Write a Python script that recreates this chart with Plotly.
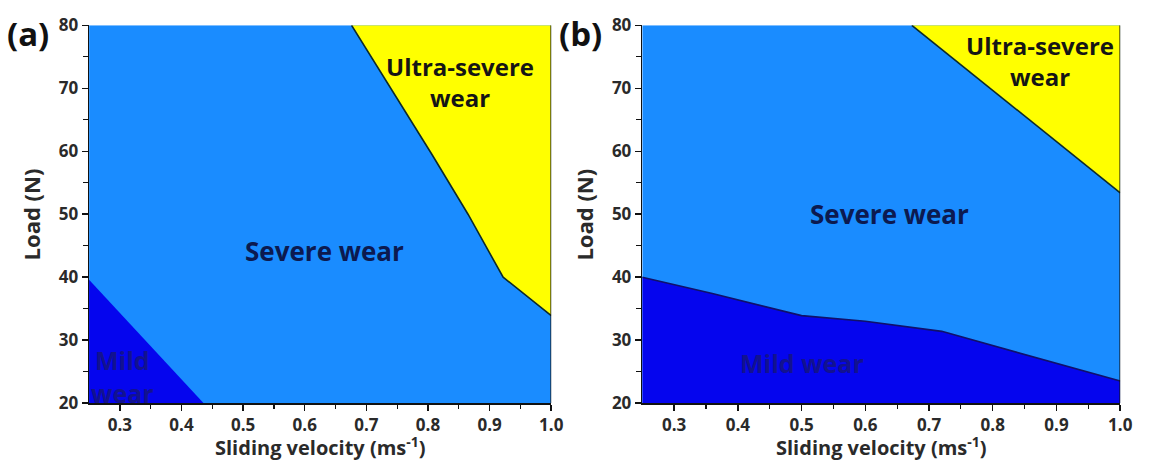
import plotly.graph_objects as go

# ---------------- data ----------------
x_range = [0.25, 1.0]
y_range = [20, 80]
x_ticks = [0.3, 0.4, 0.5, 0.6, 0.7, 0.8, 0.9, 1.0]
x_ticklabels = ["0.3", "0.4", "0.5", "0.6", "0.7", "0.8", "0.9", "1.0"]
y_ticks = [20, 30, 40, 50, 60, 70, 80]
y_ticklabels = ["20", "30", "40", "50", "60", "70", "80"]

# panel (a) boundaries
a_ultra_vel = [0.676, 0.807, 0.865, 0.922, 1.0]
a_ultra_load = [80, 59.4, 50, 40, 33.9]
a_mild_vel = [0.25, 0.436]
a_mild_load = [39.6, 20]

# panel (b) boundaries
b_ultra_vel = [0.673, 1.0]
b_ultra_load = [80, 53.4]
b_mild_vel = [0.25, 0.36, 0.5, 0.6, 0.72, 1.0]
b_mild_load = [40, 37.4, 33.9, 33.0, 31.4, 23.5]

C_SEVERE = "#1a8cff"
C_MILD = "#0505ee"
C_ULTRA = "#ffff00"
C_EDGE = "#0d2a2a"
FONT = "Open Sans"
W, H = 1152, 476

fig = go.Figure()


def add_panel(xa, ya, ultra_v, ultra_l, mild_v, mild_l, mild_edge):
    x0, x1 = x_range
    y0, y1 = y_range
    fig.add_trace(go.Scatter(x=[x0, x1, x1, x0, x0], y=[y0, y0, y1, y1, y0],
                             fill="toself", fillcolor=C_SEVERE, mode="none",
                             xaxis=xa, yaxis=ya, showlegend=False, hoverinfo="skip"))
    fig.add_trace(go.Scatter(x=list(ultra_v) + [x1, ultra_v[0]],
                             y=list(ultra_l) + [y1, ultra_l[0]],
                             fill="toself", fillcolor=C_ULTRA, mode="none",
                             xaxis=xa, yaxis=ya, showlegend=False, hoverinfo="skip"))
    fig.add_trace(go.Scatter(x=ultra_v, y=ultra_l, mode="lines",
                             line=dict(color=C_EDGE, width=1.6),
                             xaxis=xa, yaxis=ya, showlegend=False, hoverinfo="skip"))
    mv = list(mild_v)
    ml = list(mild_l)
    if ml[-1] != y0:
        mv = mv + [x1]
        ml = ml + [y0]
    fig.add_trace(go.Scatter(x=mv + [x0, mv[0]], y=ml + [y0, ml[0]],
                             fill="toself", fillcolor=C_MILD, mode="none",
                             xaxis=xa, yaxis=ya, showlegend=False, hoverinfo="skip"))
    if mild_edge:
        fig.add_trace(go.Scatter(x=mild_v, y=mild_l, mode="lines",
                                 line=dict(color="#10106a", width=1.6),
                                 xaxis=xa, yaxis=ya, showlegend=False, hoverinfo="skip"))


add_panel("x", "y", a_ultra_vel, a_ultra_load, a_mild_vel, a_mild_load, False)
add_panel("x2", "y2", b_ultra_vel, b_ultra_load, b_mild_vel, b_mild_load, True)

y_dom = [1 - 411 / H, 1 - 14 / H]
xa_common = dict(range=x_range, tickvals=x_ticks,
                 ticktext=["<b>%s</b>" % t for t in x_ticklabels],
                 ticks="outside", ticklen=6, tickwidth=1.5, tickcolor="#111",
                 minor=dict(ticks="outside", ticklen=4, tickwidth=1.2, tickcolor="#111",
                            tickvals=[0.35, 0.45, 0.55, 0.65, 0.75, 0.85, 0.95]),
                 showline=True, linecolor="#111", linewidth=1.5,
                 showgrid=False, zeroline=False, fixedrange=True,
                 tickfont=dict(family=FONT, size=17, color="#2a2a2a"))
ya_common = dict(range=y_range, tickvals=y_ticks,
                 ticktext=["<b>%s</b>" % t for t in y_ticklabels],
                 ticks="outside", ticklen=6, tickwidth=1.5, tickcolor="#111",
                 minor=dict(ticks="outside", ticklen=5, tickwidth=1.2, tickcolor="#111",
                            tickvals=[25, 35, 45, 55, 65, 75]),
                 showline=True, linecolor="#111", linewidth=1.5,
                 showgrid=False, zeroline=False, fixedrange=True,
                 tickfont=dict(family=FONT, size=17, color="#2a2a2a"))

pa = [90, 557]
pb = [649, 1132]
fig.update_layout(
    width=W, height=H,
    margin=dict(l=0, r=0, t=0, b=0),
    paper_bgcolor="white", plot_bgcolor="white",
    hovermode=False,
    xaxis=dict(domain=[pa[0] / W, pa[1] / W], anchor="y", **xa_common),
    yaxis=dict(domain=y_dom, anchor="x", **ya_common),
    xaxis2=dict(domain=[pb[0] / W, pb[1] / W], anchor="y2", **xa_common),
    yaxis2=dict(domain=y_dom, anchor="x2", **ya_common),
)

for xr, yr in (("x", "y"), ("x2", "y2")):
    fig.add_shape(type="line", xref=xr, yref=yr, x0=1.0, x1=1.0, y0=20, y1=80,
                  line=dict(color="#111", width=1.5))

# axis titles as annotations
title_font = dict(family=FONT, size=20, color="#2a2a2a")
for (l, r), ylab_x in ((pa, 31), (pb, 590)):
    fig.add_annotation(xref="paper", yref="paper", x=(l + r) / 2 / W, y=1 - 457 / H,
                       xanchor="center", yanchor="middle", showarrow=False,
                       text="<b>Sliding velocity (ms<sup>-1</sup>)</b>", font=title_font)
    fig.add_annotation(xref="paper", yref="paper", x=ylab_x / W, y=1 - 213 / H,
                       xanchor="center", yanchor="middle", showarrow=False, textangle=-90,
                       text="<b>Load (N)</b>", font=dict(family=FONT, size=22, color="#2a2a2a"))

ann_font = dict(family=FONT, size=24, color="#151515")
navy_font = dict(family=FONT, size=26, color="#0c1a50")
mild_font = dict(family=FONT, size=25, color="#121290")

anns = [
    ("x", "y", 0.852, 71.0, "<b>Ultra-severe<br>wear</b>", ann_font),
    ("x", "y", 0.632, 44.2, "<b>Severe wear</b>", navy_font),
    ("x", "y", 0.305, 24.3, "<b>Mild<br>wear</b>", mild_font),
    ("x2", "y2", 0.874, 74.4, "<b>Ultra-severe<br>wear</b>", ann_font),
    ("x2", "y2", 0.638, 50.0, "<b>Severe wear</b>", navy_font),
    ("x2", "y2", 0.50, 26.4, "<b>Mild wear</b>", mild_font),
]
for xr, yr, xv, yv, txt, f in anns:
    fig.add_annotation(xref=xr, yref=yr, x=xv, y=yv, text=txt, showarrow=False,
                       font=f, align="center")

# panel tags
for tag, xl in (("(a)", 5), ("(b)", 563)):
    fig.add_annotation(xref="paper", yref="paper", x=xl / W, y=1 - 23 / H,
                       xanchor="left", yanchor="middle", text="<b>%s</b>" % tag,
                       showarrow=False, font=dict(family=FONT, size=33, color="#111"))

fig.write_html("out.html",
               config={"displayModeBar": False, "staticPlot": True},
               post_script="document.body.style.margin='0';"
                           "document.body.style.overflow='hidden';")
